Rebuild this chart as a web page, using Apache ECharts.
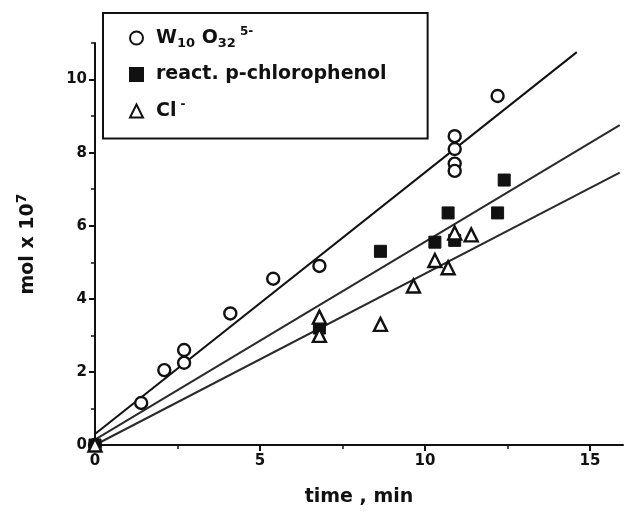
<!DOCTYPE html>
<html>
<head>
<meta charset="utf-8">
<script src="https://cdn.jsdelivr.net/npm/echarts@6/dist/echarts.min.js"></script>
<style>html,body{margin:0;padding:0;background:#fff;}#c{width:625px;height:516px;}</style>
</head>
<body>
<div id="c"></div>
<script>
// ---- data ----
var circleX = [0, 1.4, 2.1, 2.7, 2.7, 4.1, 5.4, 6.8, 10.9, 10.9, 10.9, 10.9, 12.2];
var circleY = [0, 1.15, 2.05, 2.6, 2.25, 3.6, 4.55, 4.9, 8.45, 8.1, 7.7, 7.5, 9.55];
var squareX = [0, 6.8, 8.65, 10.3, 10.7, 10.9, 12.2, 12.4];
var squareY = [0, 3.2, 5.3, 5.55, 6.35, 5.6, 6.35, 7.25];
var triX = [0, 6.8, 6.8, 8.65, 9.65, 10.3, 10.7, 10.9, 11.4];
var triY = [0, 3.5, 3.0, 3.3, 4.35, 5.05, 4.85, 5.8, 5.75];
var fitWX = [0, 14.6], fitWY = [0.3, 10.75];
var fitPX = [0, 15.9], fitPY = [0.15, 8.75];
var fitClX = [0, 15.9], fitClY = [0.0, 7.45];
var xMajor = [0, 5, 10, 15], xMinor = [2.5, 7.5, 12.5];
var yMajor = [0, 2, 4, 6, 8, 10], yMinor = [1, 3, 5, 7, 9, 11];
var names = ['W10O32', 'pcp', 'Cl'];

function zip(a, b) { return a.map(function (v, i) { return [v, b[i]]; }); }

var ink = '#111';
var font = '"DejaVu Sans", Arial, sans-serif';
var chart = echarts.init(document.getElementById('c'), null, {renderer: 'canvas'});

function baseAxis(extra) {
  return Object.assign({
    type: 'value', splitLine: {show: false},
    axisLine: {show: true, onZero: false, lineStyle: {color: ink, width: 2}},
    axisTick: {show: true, inside: false, length: 6, lineStyle: {color: ink, width: 2}},
    axisLabel: {color: ink, fontFamily: font, fontWeight: 'bold', fontSize: 15}
  }, extra);
}

var option = {
  backgroundColor: '#fff',
  animation: false,
  grid: {left: 95, right: 2, top: 43, bottom: 71, containLabel: false},
  xAxis: [
    baseAxis({min: 0, max: 16, interval: 5,
      axisTick: {show: true, length: 6, lineStyle: {color: ink, width: 2}, customValues: xMajor},
      axisLabel: {color: ink, fontFamily: font, fontWeight: 'bold', fontSize: 15, margin: 9, customValues: xMajor},
      name: 'time , min', nameLocation: 'middle', nameGap: 43,
      nameTextStyle: {color: ink, fontFamily: font, fontWeight: 'bold', fontSize: 19}}),
    baseAxis({min: 0, max: 16, position: 'bottom',
      axisLine: {show: false},
      axisTick: {show: true, length: 4, lineStyle: {color: ink, width: 1.5}, customValues: xMinor},
      axisLabel: {show: false}})
  ],
  yAxis: [
    baseAxis({min: 0, max: 11, interval: 1,
      axisTick: {show: true, length: 6, lineStyle: {color: ink, width: 2}, customValues: yMajor},
      axisLabel: {color: ink, fontFamily: font, fontWeight: 'bold', fontSize: 15, margin: 8, customValues: yMajor},
      name: 'mol x 10{sup|7}', nameLocation: 'middle', nameGap: 54, nameRotate: 90,
      nameTextStyle: {color: ink, fontFamily: font, fontWeight: 'bold', fontSize: 19,
        rich: {sup: {fontFamily: font, fontWeight: 'bold', fontSize: 14, verticalAlign: 'top', padding: [0, 0, 12, 0], color: ink}}}}),
    baseAxis({min: 0, max: 11, position: 'left',
      axisLine: {show: false},
      axisTick: {show: true, length: 4, lineStyle: {color: ink, width: 1.5}, customValues: yMinor},
      axisLabel: {show: false}})
  ],
  legend: {
    left: 103, top: 13, orient: 'vertical',
    data: names,
    borderColor: ink, borderWidth: 2,
    padding: [13, 41, 18, 26],
    itemGap: 15, itemWidth: 13, itemHeight: 13,
    textStyle: {color: ink, fontFamily: font, fontWeight: 'bold', fontSize: 19, padding: [0, 0, 0, 8],
      rich: {
        t: {fontFamily: font, fontWeight: 'bold', fontSize: 19, color: ink},
        sub: {fontFamily: font, fontWeight: 'bold', fontSize: 13, color: ink, verticalAlign: 'bottom', padding: [10, 0, 0, 0]},
        sup: {fontFamily: font, fontWeight: 'bold', fontSize: 12, color: ink, verticalAlign: 'top', padding: [0, 0, 12, 4]}
      }},
    formatter: function (n) {
      if (n === 'W10O32') return '{t|W}{sub|10}{t| O}{sub|32}{sup|5-}';
      if (n === 'pcp') return '{t|react. p-chlorophenol}';
      return '{t|Cl}{sup|-}';
    }
  },
  series: [
    {type: 'line', data: zip(fitWX, fitWY), symbol: 'none', lineStyle: {color: ink, width: 2}, silent: true, z: 1},
    {type: 'line', data: zip(fitPX, fitPY), symbol: 'none', lineStyle: {color: '#2a2a2a', width: 2}, silent: true, z: 1},
    {type: 'line', data: zip(fitClX, fitClY), symbol: 'none', lineStyle: {color: '#2a2a2a', width: 2}, silent: true, z: 1},
    {name: names[0], type: 'scatter', data: zip(circleX, circleY), symbol: 'circle', symbolSize: 12,
      itemStyle: {color: '#fff', borderColor: ink, borderWidth: 2.4, opacity: 1}, z: 3},
    {name: names[1], type: 'scatter', data: zip(squareX, squareY), symbol: 'rect', symbolSize: 12,
      itemStyle: {color: '#111', borderColor: '#111', borderWidth: 1, opacity: 1}, z: 4},
    {name: names[2], type: 'scatter', data: zip(triX, triY), symbol: 'triangle', symbolSize: 13,
      itemStyle: {color: '#fff', borderColor: ink, borderWidth: 2.4, opacity: 1}, z: 5}
  ]
};
chart.setOption(option);
</script>
</body>
</html>
